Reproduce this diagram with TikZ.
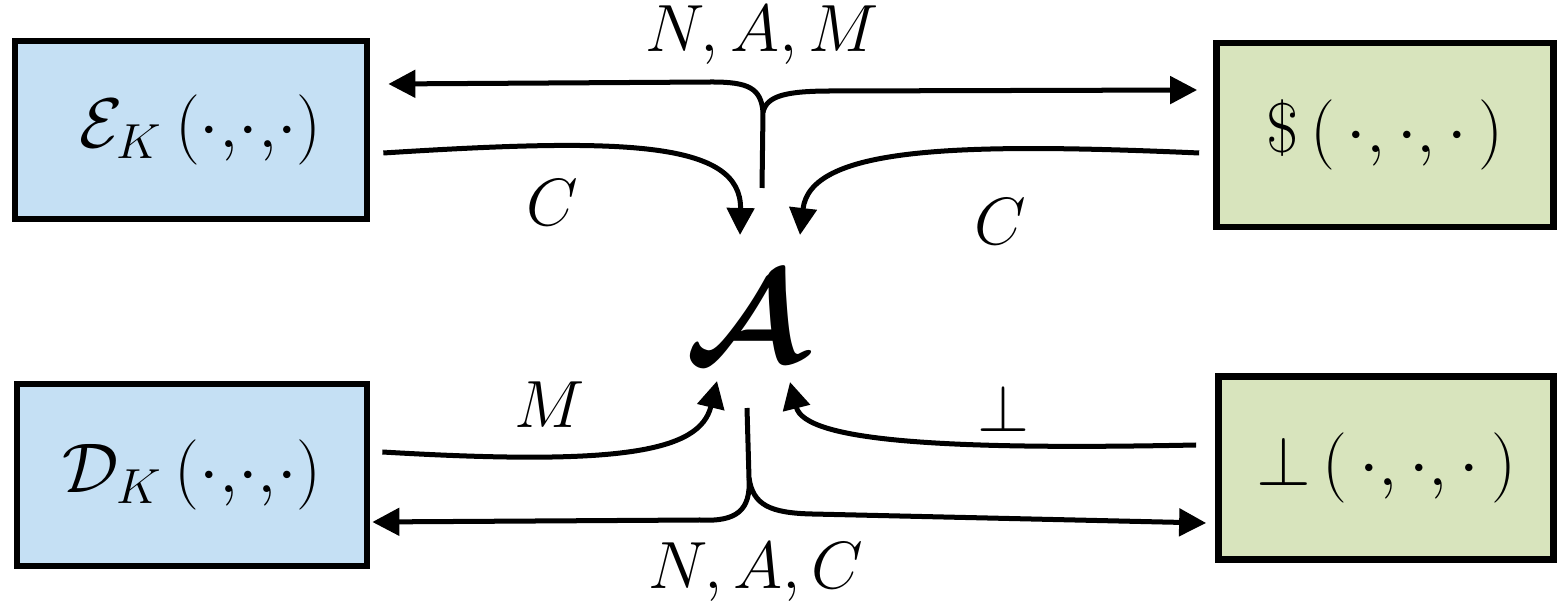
\RequirePackage{fix-cm}
\documentclass[tikz,border=0pt]{standalone}
\usepackage{amsmath,amssymb,bm}
\usepackage{tikz,xcolor}
\usetikzlibrary{arrows.meta,calc}

\definecolor{boxblue}{RGB}{197,224,244}
\definecolor{boxgreen}{RGB}{216,228,189}

\tikzset{
  oracle/.style={draw, line width=0.065cm, inner sep=0pt, font=\fontsize{20}{24}\selectfont},
  flow/.style={line width=0.05cm, -{Triangle[length=0.27cm,width=0.27cm]}},
  wire/.style={line width=0.05cm},
  lab/.style={font=\fontsize{19}{22}\selectfont}
}

\begin{document}
\begin{tikzpicture}[x=0.01cm,y=-0.01cm]
\useasboundingbox (0,0) rectangle (1557,607);

% the four oracles
\node[oracle, fill=boxblue, minimum width=3.52cm, minimum height=1.78cm] (Enc) at (191,130) {$\;\mathcal{E}_K\,({\cdot}{,}{\cdot}{,}{\cdot})$};
\node[oracle, fill=boxgreen, minimum width=3.37cm, minimum height=1.84cm] (Rnd) at (1385,135) {$\$\,(\,{\cdot}{,}\,{\cdot}{,}\,{\cdot}\,)$};
\node[oracle, fill=boxblue, minimum width=3.50cm, minimum height=1.82cm] (Dec) at (192,475) {$\mathcal{D}_K\,({\cdot}{,}{\cdot}{,}{\cdot})$};
\node[oracle, fill=boxgreen, minimum width=3.35cm, minimum height=1.83cm] (Bot) at (1386,468) {$\bot\,(\,{\cdot}{,}\,{\cdot}{,}\,{\cdot}\,)$};

% adversary
\node[font=\fontsize{37}{40}\selectfont] (Adv) at (745,318) {$\bm{\mathcal{A}}$};

% free ends near the adversary
\coordinate (topfork) at (763,112);
\coordinate (topstem) at (762,188);
\coordinate (botfork) at (749,478);
\coordinate (botstem) at (747,408);
\coordinate (Cl) at (740,235);
\coordinate (Cr) at (800,235);
\coordinate (Mt) at (717,381);
\coordinate (Bt) at (790,382);

% queries N,A,M
\draw[flow] (topstem) -- (topfork) .. controls (761,88) and (748,82) .. (712,82) -- ($(Enc.east)+(18,-46)$);
\draw[flow] (topfork) .. controls (767,96) and (785,91) .. (832,91) -- ($(Rnd.west)+(-16,-45)$);

% answers C
\draw[flow] ($(Enc.east)+(13,23)$) .. controls (620,138) and (742,140) .. (Cl);
\draw[flow] ($(Rnd.west)+(-14,18)$) .. controls (950,142) and (810,148) .. (Cr);

% queries N,A,C
\draw[flow] (botstem) -- (botfork) .. controls (751,510) and (737,522) .. (700,520) -- ($(Dec.east)+(2,47)$);
\draw[flow] (botfork) .. controls (753,505) and (770,513) .. (812,514) -- ($(Bot.west)+(-9,55)$);

% answers M and bot
\draw[flow] ($(Dec.east)+(12,-23)$) .. controls (620,466) and (700,452) .. (Mt);
\draw[flow] ($(Bot.west)+(-19,-23)$) .. controls (950,450) and (805,442) .. (Bt);

% labels
\node[lab] (lNAM) at (762,35) {$N, A, M$};
\node[lab] (lCl) at (552,203) {$C$};
\node[lab] (lCr) at (1000,222) {$C$};
\node[lab] (lM) at (550,405) {$M$};
\node[lab] (lBot) at (1003,408) {$\bot$};
\node[lab] (lNAC) at (756,572) {$N, A, C$};
\end{tikzpicture}
\end{document}
